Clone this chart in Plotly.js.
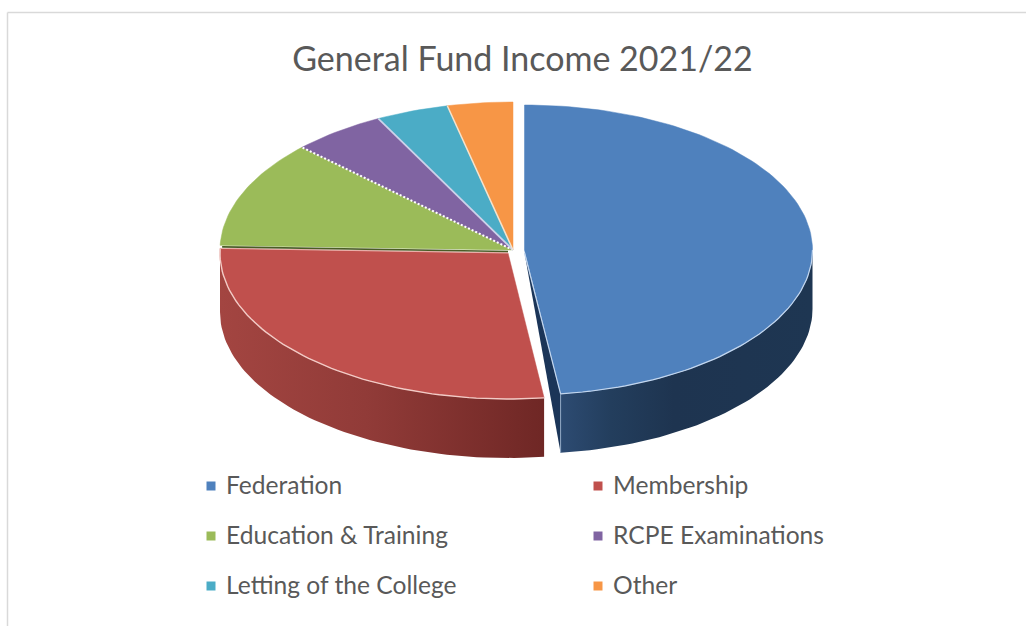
<!DOCTYPE html>
<html><head><meta charset="utf-8">
<script src="https://cdn.plot.ly/plotly-3.0.1.min.js"></script>
<style>html,body{margin:0;padding:0;background:#fff}#c{width:1026px;height:626px}</style>
</head><body><div id="c"></div>
<script>
const categories = ["Federation","Membership","Education & Training","RCPE Examinations","Letting of the College","Other"];
const values = [48, 27.5, 11.7, 5.2, 4.0, 3.6];
const colors = ["#4f81bd","#c0504d","#9bbb59","#8064a2","#4bacc6","#f79646"];
const chartTitle = "General Fund Income 2021/22";

// projection of each slice (centre, radii) on the page-sized axes
const centres = [[524.5,250,288,145],[508,253,288,146],[513,250,293,148],[513,250,293,148],[513,250,293,148],[513,250,293,148]];
const depth = 59;
const total = values.reduce((a,b)=>a+b,0);

function arc(k,f0,f1,dy){
  const [cx,cy,a,b] = centres[k], n = Math.max(2,Math.ceil((f1-f0)*240));
  const xs=[],ys=[];
  for(let i=0;i<=n;i++){
    const t=2*Math.PI*(f0+(f1-f0)*i/n);
    xs.push(cx+a*Math.sin(t)); ys.push(cy-b*Math.cos(t)+(dy||0));
  }
  return [xs,ys];
}
const base={type:"scatter",mode:"lines",hoverinfo:"skip",showlegend:false};
const traces=[];
let cum=0;
const bounds=values.map(v=>{const r=[cum/total,(cum+v)/total];cum+=v;return r;});

function edge(name,xs,ys,color,width,dash){
  traces.push({...base,name,x:xs,y:ys,line:{width,color,dash:dash||"solid"}});
}

// side wall of Membership
{
  const [f0]=bounds[1];
  const [x1,y1]=arc(1,f0,0.75,0), [x2,y2]=arc(1,f0,0.75,depth);
  traces.push({...base,name:categories[1]+" wall",x:x1.concat(x2.slice().reverse()),y:y1.concat(y2.slice().reverse()),fill:"toself",
    line:{width:0,color:"#a34541"},
    fillgradient:{type:"horizontal",colorscale:[[0,"#a34541"],[0.45,"#913b38"],[1,"#6f2725"]]}});
}
// side wall of Federation, plus its cut face
let fedEnd;
{
  const [,f1]=bounds[0];
  const [x1,y1]=arc(0,0.25,f1,0), [x2,y2]=arc(0,0.25,f1,depth);
  const ex=x1[x1.length-1], ey=y1[y1.length-1];
  fedEnd=[ex,ey];
  traces.push({...base,name:categories[0]+" cut",x:[centres[0][0],ex,ex,centres[0][0]],y:[centres[0][1]+3,ey,ey+depth,centres[0][1]+3],fill:"toself",
    line:{width:0,color:"#1b3558"},fillcolor:"#1b3558"});
  traces.push({...base,name:categories[0]+" wall",x:x1.concat(x2.slice().reverse()),y:y1.concat(y2.slice().reverse()),fill:"toself",
    line:{width:0,color:"#1f3552"},
    fillgradient:{type:"horizontal",colorscale:[[0,"#2d4b72"],[0.2,"#233e5d"],[0.45,"#1e3450"],[1,"#1e3652"]]}});
  edge(categories[0]+" wall edge",[ex,ex],[ey,ey+depth],"#8fa6c2",1);
}
// top faces
values.forEach((v,i)=>{
  const [f0,f1]=bounds[i], [xs,ys]=arc(i,f0,f1,0), [cx,cy]=centres[i];
  traces.push({...base,name:categories[i],x:[cx].concat(xs,[cx]),y:[cy].concat(ys,[cy]),fill:"toself",
    fillcolor:colors[i],line:{width:0.5,color:colors[i]}});
});
// light rims and cut edges
{
  const [ax,ay]=arc(0,0.25,bounds[0][1],0);
  edge("Federation rim",ax,ay,"#c3d6ee",1.2);
  edge("Federation cut edge",[centres[0][0],fedEnd[0]],[centres[0][1]+3,fedEnd[1]],"#c3d6ee",1.2);
  const [rx,ry]=arc(1,bounds[1][0],bounds[1][1],0);
  edge("Membership rim",rx,ry,"#f2cbc6",1.4);
  edge("Membership top edge",[rx[rx.length-1],centres[1][0]],[ry[ry.length-1],centres[1][1]],"#eab0aa",1);
  // dark cut line between Education & Training and Membership
  const [gx,gy]=arc(2,bounds[2][0],bounds[2][0],0);
  edge("Education cut line",[gx[0]+2,centres[1][0]],[gy[0]+1.5,centres[1][1]-1.5],"#4a5c26",1.6);
  const [p]=[2,3,4].map(i=>i);
  const b1=arc(3,bounds[3][0],bounds[3][0],0);
  edge("Education edge",[centres[3][0],b1[0][0]],[centres[3][1],b1[1][0]],"#ffffff",2,"2px,2px");
  const b2=arc(4,bounds[4][0],bounds[4][0],0);
  edge("RCPE edge",[centres[4][0],b2[0][0]],[centres[4][1],b2[1][0]],"#cdd2ea",1.8);
  const b3=arc(5,bounds[5][0],bounds[5][0],0);
  edge("Letting edge",[centres[5][0],b3[0][0]],[centres[5][1],b3[1][0]],"#f3e3cf",1.5);
}
// legend keys
const keyX=[211,598], keyY=[486,536,586];
const annotations=[];
categories.forEach((c,i)=>{
  const kx=keyX[i%2], ky=keyY[Math.floor(i/2)];
  traces.push({...base,mode:"markers",name:c+" key",x:[kx],y:[ky],marker:{symbol:"square",size:9,color:colors[i]}});
  annotations.push({xref:"x",yref:"y",x:kx+12.5,y:ky-2,text:c,showarrow:false,xanchor:"left",yanchor:"middle",
    font:{family:"Lato, sans-serif",size:24.6,color:"#595959"}});
});
const layout={
  width:1026,height:626,margin:{l:0,r:0,t:0,b:0},paper_bgcolor:"#fff",plot_bgcolor:"#fff",showlegend:false,
  title:{text:chartTitle,x:522.5/1026,xanchor:"center",y:1-59/626,yanchor:"middle",font:{family:"Lato, sans-serif",size:34,color:"#595959"}},
  xaxis:{range:[0,1026],visible:false,fixedrange:true},
  yaxis:{range:[626,0],visible:false,fixedrange:true},
  annotations,
  shapes:[
    {type:"line",xref:"x",yref:"y",x0:7.5,x1:1026,y0:12.5,y1:12.5,line:{color:"#d9d9d9",width:1.5},layer:"below"},
    {type:"line",xref:"x",yref:"y",x0:7.5,x1:7.5,y0:12.5,y1:626,line:{color:"#d9d9d9",width:1.5},layer:"below"}
  ]
};
Plotly.newPlot("c",traces,layout,{displayModeBar:false,staticPlot:true});
</script></body></html>
